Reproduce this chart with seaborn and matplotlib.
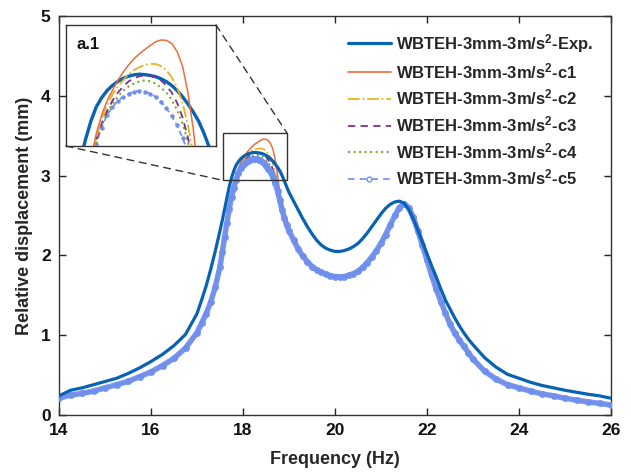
import matplotlib
matplotlib.use('Agg')
import matplotlib.pyplot as plt
import seaborn as sns
import pandas as pd
from matplotlib.lines import Line2D
from matplotlib.patches import Rectangle, ConnectionPatch

# ---------------- data ----------------
freq = [14.0, 14.25, 14.5, 14.75, 15.0, 15.25, 15.5, 15.75, 16.0, 16.25, 16.5, 16.75, 17.0,
        17.1, 17.2, 17.3, 17.4, 17.5,
        17.55, 17.6, 17.65, 17.7, 17.75, 17.8, 17.85, 17.9, 17.95, 18.0,
        18.05, 18.1, 18.15, 18.2, 18.25, 18.3, 18.35, 18.4, 18.45, 18.5,
        18.55, 18.6, 18.65, 18.7, 18.75, 18.8, 18.85, 18.9, 18.95, 19.0,
        19.1, 19.2, 19.3, 19.4, 19.5, 19.6, 19.7, 19.8, 19.9, 20.0,
        20.1, 20.2, 20.3, 20.4, 20.5, 20.6, 20.7, 20.8, 20.9, 21.0,
        21.1, 21.2, 21.3, 21.4, 21.5, 21.6, 21.7, 21.8, 21.9, 22.0,
        22.1, 22.2, 22.3, 22.4, 22.5, 22.6, 22.7, 22.8, 22.9, 23.0,
        23.25, 23.5, 23.75, 24.0, 24.25, 24.5, 24.75, 25.0, 25.25, 25.5, 25.75, 26.0]

exp_disp = [0.24, 0.31, 0.34, 0.38, 0.42, 0.46, 0.52, 0.59, 0.67, 0.76, 0.87, 1.01, 1.27,
            1.44, 1.62, 1.83, 2.06, 2.31,
            2.44, 2.58, 2.72, 2.86, 2.97, 3.06, 3.13, 3.175, 3.21, 3.235,
            3.255, 3.27, 3.28, 3.287, 3.29, 3.288, 3.284, 3.278, 3.268, 3.254,
            3.235, 3.21, 3.18, 3.145, 3.105, 3.06, 3.0, 2.93, 2.86, 2.79,
            2.68, 2.57, 2.46, 2.36, 2.27, 2.19, 2.13, 2.09, 2.065, 2.05,
            2.05, 2.06, 2.08, 2.11, 2.15, 2.21, 2.28, 2.36, 2.44, 2.52,
            2.59, 2.64, 2.67, 2.68, 2.655, 2.58, 2.46, 2.32, 2.17, 2.02,
            1.87, 1.73, 1.58, 1.44, 1.33, 1.22, 1.12, 1.03, 0.95, 0.88,
            0.72, 0.60, 0.51, 0.46, 0.41, 0.37, 0.34, 0.31, 0.285, 0.26, 0.24, 0.21]

c1_disp = [0.21, 0.25, 0.27, 0.30, 0.34, 0.38, 0.42, 0.48, 0.54, 0.62, 0.71, 0.84, 1.03,
           1.15, 1.27, 1.42, 1.61, 1.86,
           2.05, 2.24, 2.42, 2.59, 2.74, 2.87, 3.0, 3.09, 3.16, 3.21,
           3.26, 3.30, 3.335, 3.365, 3.39, 3.41, 3.43, 3.448, 3.457, 3.455,
           3.44, 3.40, 3.33, 3.20, 3.02, 2.78, 2.60, 2.48, 2.39, 2.32,
           2.19, 2.08, 1.99, 1.92, 1.86, 1.82, 1.79, 1.765, 1.745, 1.735,
           1.73, 1.735, 1.75, 1.77, 1.80, 1.85, 1.91, 1.98, 2.06, 2.15,
           2.26, 2.38, 2.50, 2.60, 2.65, 2.60, 2.48, 2.31, 2.13, 1.94,
           1.75, 1.58, 1.42, 1.28, 1.14, 1.03, 0.94, 0.86, 0.78, 0.70,
           0.55, 0.45, 0.38, 0.34, 0.30, 0.265, 0.24, 0.21, 0.185, 0.165, 0.145, 0.125]

c2_disp = [0.21, 0.25, 0.27, 0.30, 0.34, 0.38, 0.42, 0.48, 0.54, 0.62, 0.71, 0.84, 1.03,
           1.15, 1.27, 1.42, 1.61, 1.86,
           2.05, 2.24, 2.42, 2.59, 2.74, 2.87, 2.98, 3.07, 3.14, 3.19,
           3.23, 3.26, 3.29, 3.31, 3.325, 3.335, 3.34, 3.34, 3.33, 3.31,
           3.275, 3.225, 3.15, 3.04, 2.90, 2.72, 2.58, 2.475, 2.385, 2.315,
           2.19, 2.08, 1.99, 1.92, 1.86, 1.82, 1.79, 1.765, 1.745, 1.735,
           1.73, 1.735, 1.75, 1.77, 1.80, 1.85, 1.91, 1.98, 2.06, 2.15,
           2.26, 2.38, 2.50, 2.60, 2.65, 2.60, 2.48, 2.31, 2.13, 1.94,
           1.75, 1.58, 1.42, 1.28, 1.14, 1.03, 0.94, 0.86, 0.78, 0.70,
           0.55, 0.45, 0.38, 0.34, 0.30, 0.265, 0.24, 0.21, 0.185, 0.165, 0.145, 0.125]

c3_disp = [0.21, 0.25, 0.27, 0.30, 0.34, 0.38, 0.42, 0.48, 0.54, 0.62, 0.71, 0.84, 1.03,
           1.15, 1.27, 1.42, 1.61, 1.86,
           2.045, 2.235, 2.415, 2.585, 2.735, 2.86, 2.97, 3.05, 3.11, 3.16,
           3.20, 3.23, 3.255, 3.27, 3.28, 3.285, 3.283, 3.275, 3.26, 3.235,
           3.20, 3.15, 3.08, 2.98, 2.85, 2.70, 2.575, 2.472, 2.382, 2.312,
           2.19, 2.08, 1.99, 1.92, 1.86, 1.82, 1.79, 1.765, 1.745, 1.735,
           1.73, 1.735, 1.75, 1.77, 1.80, 1.85, 1.91, 1.98, 2.06, 2.15,
           2.26, 2.38, 2.50, 2.60, 2.65, 2.60, 2.48, 2.31, 2.13, 1.94,
           1.75, 1.58, 1.42, 1.28, 1.14, 1.03, 0.94, 0.86, 0.78, 0.70,
           0.55, 0.45, 0.38, 0.34, 0.30, 0.265, 0.24, 0.21, 0.185, 0.165, 0.145, 0.125]

c4_disp = [0.21, 0.25, 0.27, 0.30, 0.34, 0.38, 0.42, 0.48, 0.54, 0.62, 0.71, 0.84, 1.03,
           1.15, 1.27, 1.42, 1.61, 1.86,
           2.045, 2.235, 2.415, 2.585, 2.735, 2.855, 2.96, 3.04, 3.10, 3.145,
           3.18, 3.21, 3.23, 3.245, 3.255, 3.26, 3.255, 3.245, 3.225, 3.20,
           3.165, 3.115, 3.05, 2.96, 2.84, 2.70, 2.575, 2.472, 2.382, 2.312,
           2.19, 2.08, 1.99, 1.92, 1.86, 1.82, 1.79, 1.765, 1.745, 1.735,
           1.73, 1.735, 1.75, 1.77, 1.80, 1.85, 1.91, 1.98, 2.06, 2.15,
           2.26, 2.38, 2.50, 2.60, 2.65, 2.60, 2.48, 2.31, 2.13, 1.94,
           1.75, 1.58, 1.42, 1.28, 1.14, 1.03, 0.94, 0.86, 0.78, 0.70,
           0.55, 0.45, 0.38, 0.34, 0.30, 0.265, 0.24, 0.21, 0.185, 0.165, 0.145, 0.125]

c5_disp = [0.21, 0.25, 0.27, 0.30, 0.34, 0.38, 0.42, 0.48, 0.54, 0.62, 0.71, 0.84, 1.03,
           1.15, 1.27, 1.42, 1.61, 1.86,
           2.04, 2.23, 2.41, 2.58, 2.73, 2.85, 2.95, 3.03, 3.09, 3.13,
           3.16, 3.18, 3.195, 3.205, 3.21, 3.205, 3.195, 3.18, 3.155, 3.125,
           3.085, 3.04, 2.98, 2.91, 2.81, 2.69, 2.57, 2.47, 2.38, 2.31,
           2.19, 2.08, 1.99, 1.92, 1.86, 1.82, 1.79, 1.765, 1.745, 1.735,
           1.73, 1.735, 1.75, 1.77, 1.80, 1.85, 1.91, 1.98, 2.06, 2.15,
           2.26, 2.38, 2.50, 2.60, 2.65, 2.60, 2.48, 2.31, 2.13, 1.94,
           1.75, 1.58, 1.42, 1.28, 1.14, 1.03, 0.94, 0.86, 0.78, 0.70,
           0.55, 0.45, 0.38, 0.34, 0.30, 0.265, 0.24, 0.21, 0.185, 0.165, 0.145, 0.125]

series_labels = [r'WBTEH-3mm-3m/s$^{2}$-Exp.',
                 r'WBTEH-3mm-3m/s$^{2}$-c1',
                 r'WBTEH-3mm-3m/s$^{2}$-c2',
                 r'WBTEH-3mm-3m/s$^{2}$-c3',
                 r'WBTEH-3mm-3m/s$^{2}$-c4',
                 r'WBTEH-3mm-3m/s$^{2}$-c5']
x_ticks = [14, 16, 18, 20, 22, 24, 26]
y_ticks = [0, 1, 2, 3, 4, 5]
zoom_xlim = (17.57, 18.96)
zoom_ylim = (2.94, 3.53)

# ---------------- styling ----------------
sns.set_theme(style='ticks')
plt.rcParams['font.family'] = ['Liberation Sans', 'DejaVu Sans']
plt.rcParams['font.weight'] = 'bold'
plt.rcParams['mathtext.fontset'] = 'custom'
plt.rcParams['mathtext.rm'] = 'Liberation Sans:bold'
plt.rcParams['mathtext.it'] = 'Liberation Sans:bold'
plt.rcParams['mathtext.bf'] = 'Liberation Sans:bold'

C_EXP = '#0862B4'
C1 = '#EE6B3B'
C2 = '#EDB120'
C3 = '#7E2F8E'
C4 = '#77AC30'
C5 = '#7090EE'

df = pd.DataFrame({'freq': freq, 'Exp': exp_disp, 'c1': c1_disp, 'c2': c2_disp,
                   'c3': c3_disp, 'c4': c4_disp, 'c5': c5_disp})

fig = plt.figure(figsize=(6.31, 4.73), dpi=100)
ax = fig.add_axes([59 / 631, 1 - 415 / 473, 552 / 631, 399 / 473])

# main plot
sns.lineplot(data=df, x='freq', y='c4', ax=ax, color=C4, lw=1.4, linestyle=':', zorder=2)
sns.lineplot(data=df, x='freq', y='c3', ax=ax, color=C3, lw=1.2, linestyle=(0, (4, 3)), zorder=2)
sns.lineplot(data=df, x='freq', y='c2', ax=ax, color=C2, lw=1.2, linestyle='-.', zorder=2)
sns.lineplot(data=df, x='freq', y='c1', ax=ax, color=C1, lw=1.1, zorder=2)
sns.lineplot(data=df, x='freq', y='c5', ax=ax, color=C5, lw=4.0, marker='o', ms=5,
             mec=C5, mew=0, alpha=0.95, zorder=3)
sns.lineplot(data=df, x='freq', y='Exp', ax=ax, color=C_EXP, lw=2.3, zorder=4)

ax.set_xlim(14, 26)
ax.set_ylim(0, 5)
ax.set_xticks(x_ticks)
ax.set_yticks(y_ticks)
ax.tick_params(direction='in', length=5, width=1, labelsize=12.5, top=True, right=True,
               colors='#222222', labelcolor='#111111', pad=6)
for lab in ax.get_xticklabels() + ax.get_yticklabels():
    lab.set_fontweight('bold')
for sp in ax.spines.values():
    sp.set_visible(True)
    sp.set_color('#333333')
    sp.set_linewidth(1.0)
ax.set_xlabel('Frequency (Hz)', fontsize=13, fontweight='bold', labelpad=9)
ax.set_ylabel('Relative displacement (mm)', fontsize=13, fontweight='bold', labelpad=6)

# legend
handles = [
    Line2D([], [], color=C_EXP, lw=2.3),
    Line2D([], [], color=C1, lw=1.2),
    Line2D([], [], color=C2, lw=1.3, linestyle='-.'),
    Line2D([], [], color=C3, lw=1.3, linestyle=(0, (4, 3))),
    Line2D([], [], color=C4, lw=1.5, linestyle=':'),
    Line2D([], [], color=C5, lw=1.2, linestyle=(0, (4, 3)), marker='o', ms=3.5,
           mfc='none', mec=C5),
]
leg = ax.legend(handles, series_labels, loc='upper right', bbox_to_anchor=(0.997, 1.0),
                frameon=False, fontsize=12, handlelength=2.6, handletextpad=0.3,
                labelspacing=0.4, borderaxespad=0.55)
for t in leg.get_texts():
    t.set_fontweight('bold')

# zoom rectangle
rect = Rectangle((zoom_xlim[0], zoom_ylim[0]), zoom_xlim[1] - zoom_xlim[0],
                 zoom_ylim[1] - zoom_ylim[0], fill=False, ec='#333333', lw=1.0, zorder=6)
ax.add_patch(rect)

# inset
axins = fig.add_axes([66 / 631, 1 - 146 / 473, 150 / 631, 121 / 473])
sns.lineplot(data=df, x='freq', y='Exp', ax=axins, color=C_EXP, lw=2.4, zorder=3)
sns.lineplot(data=df, x='freq', y='c5', ax=axins, color=C5, lw=1.3, linestyle=(0, (3, 2)),
             marker='o', ms=3.2, mec=C5, mew=0, zorder=2)
sns.lineplot(data=df, x='freq', y='c4', ax=axins, color=C4, lw=1.5, linestyle=':', zorder=4)
sns.lineplot(data=df, x='freq', y='c3', ax=axins, color=C3, lw=1.3, linestyle=(0, (4, 3)), zorder=4)
sns.lineplot(data=df, x='freq', y='c2', ax=axins, color=C2, lw=1.3, linestyle='-.', zorder=4)
sns.lineplot(data=df, x='freq', y='c1', ax=axins, color=C1, lw=1.1, zorder=5)
axins.set_xlim(*zoom_xlim)
axins.set_ylim(*zoom_ylim)
axins.set_xticks([])
axins.set_yticks([])
axins.set_xlabel('')
axins.set_ylabel('')
for sp in axins.spines.values():
    sp.set_visible(True)
    sp.set_color('#333333')
    sp.set_linewidth(1.0)
axins.set_facecolor('white')
axins.text(0.07, 0.9, 'a.1', transform=axins.transAxes, fontsize=12, fontweight='bold',
           va='top', ha='left', color='#111111')

# connector lines
for (xa, ya), (xb, yb) in [((1, 1), (zoom_xlim[1], zoom_ylim[1])),
                           ((0, 0), (zoom_xlim[0], zoom_ylim[0]))]:
    con = ConnectionPatch(xyA=(xa, ya), coordsA=axins.transAxes,
                          xyB=(xb, yb), coordsB=ax.transData,
                          linestyle=(0, (5, 4)), color='#333333', lw=1.0)
    fig.add_artist(con)

fig.savefig('out.png', dpi=100, facecolor='white')
